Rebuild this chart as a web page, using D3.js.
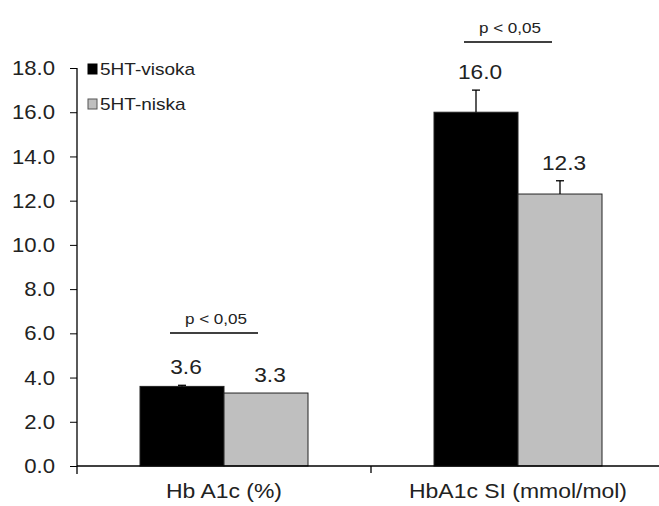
<!DOCTYPE html>
<html><head><meta charset="utf-8">
<script src="https://cdn.jsdelivr.net/npm/d3@7"></script>
<style>body{margin:0;background:#fff}svg{display:block;font-family:"Liberation Sans",Arial,sans-serif}</style>
</head><body><svg id="c" width="659" height="506"></svg>
<script>
const categories = ["Hb A1c (%)", "HbA1c SI (mmol/mol)"];
const seriesNames = ["5HT-visoka", "5HT-niska"];
const visoka = [3.6, 16.0];
const niska = [3.3, 12.3];
const visokaErr = [0.05, 1.0];
const niskaErr = [0.0, 0.6];
const yTicks = [0, 2, 4, 6, 8, 10, 12, 14, 16, 18];
const pLabels = ["p < 0,05", "p < 0,05"];
const colors = ["#000000", "#bfbfbf"];

const svg = d3.select("#c");
const x = d3.scaleBand().domain(categories).range([77, 665]).paddingInner(0).paddingOuter(0);
const y = d3.scaleLinear().domain([0, 18]).range([466, 68]);
const inner = d3.scaleBand().domain([0, 1]).range([0, x.bandwidth()]).paddingOuter(0.75).paddingInner(0);

function label(px, py, txt, size, anchor, sx) {
  return svg.append("text")
    .attr("transform", `translate(${px},${py}) scale(${sx},1)`)
    .attr("text-anchor", anchor).attr("font-size", size).attr("fill", "#222")
    .text(txt);
}

// bars
const series = [visoka, niska];
const errs = [visokaErr, niskaErr];
series.forEach((vals, s) => {
  svg.selectAll(null).data(vals).enter().append("rect")
    .attr("x", (d, i) => x(categories[i]) + inner(s))
    .attr("y", d => y(d))
    .attr("width", inner.bandwidth())
    .attr("height", d => y(0) - y(d))
    .attr("fill", colors[s])
    .attr("stroke", "#222").attr("stroke-width", 1);
  vals.forEach((d, i) => {
    const cx = x(categories[i]) + inner(s) + inner.bandwidth() / 2;
    const e = errs[s][i];
    if (e > 0) {
      svg.append("line").attr("x1", cx).attr("x2", cx).attr("y1", y(d)).attr("y2", y(d + e)).attr("stroke", "#000").attr("stroke-width", 1.3);
      svg.append("line").attr("x1", cx - 4).attr("x2", cx + 4).attr("y1", y(d + e)).attr("y2", y(d + e)).attr("stroke", "#000").attr("stroke-width", 1.3);
    }
    const top = d + Math.max(e, 0);
    label(cx + 4, y(top) - 11, d.toFixed(1), 21, "middle", 1.08);
  });
});

// axes
const yAxis = d3.axisLeft(y).tickValues(yTicks).tickFormat(d3.format(".1f")).tickSize(7).tickPadding(15);
const gy = svg.append("g").attr("transform", "translate(77,0)").call(yAxis);
gy.select(".domain").remove();
gy.selectAll("text").attr("font-size", 20.5).attr("fill", "#222")
  .attr("font-family", "Liberation Sans, Arial, sans-serif")
  .attr("x", -22 / 1.08).attr("transform", "scale(1.08,1)");
gy.selectAll("line").attr("stroke", "#000");
svg.append("line").attr("x1", 77).attr("x2", 77).attr("y1", y(18)).attr("y2", y(0) + 8).attr("stroke", "#000").attr("stroke-width", 1.3);
svg.append("line").attr("x1", 77).attr("x2", 665).attr("y1", y(0)).attr("y2", y(0)).attr("stroke", "#000").attr("stroke-width", 1.3);
[categories[1]].forEach(c => {
  svg.append("line").attr("x1", x(c)).attr("x2", x(c)).attr("y1", y(0)).attr("y2", y(0) + 7).attr("stroke", "#000").attr("stroke-width", 1.3);
});
categories.forEach(c => label(x(c) + x.bandwidth() / 2, 498, c, 20.5, "middle", 1.12));

// significance brackets
categories.forEach((c, i) => {
  const x0 = x(c) + inner(0) + 30, x1 = x(c) + inner(1) + inner.bandwidth() - 50;
  const ly = i === 0 ? 333 : 42;
  svg.append("line").attr("x1", x0).attr("x2", x1).attr("y1", ly).attr("y2", ly).attr("stroke", "#000").attr("stroke-width", 1.3);
  label((x0 + x1) / 2 + 2, ly - 9, pLabels[i], 14, "middle", 1.22);
});

// legend
seriesNames.forEach((n, i) => {
  const ly = 64 + i * 35;
  svg.append("rect").attr("x", 88).attr("y", ly).attr("width", 9).attr("height", 10)
    .attr("fill", colors[i]).attr("stroke", i ? "#555" : "#000").attr("stroke-width", 1);
  label(100, ly + 11, n, 17, "start", 1.12);
});
</script></body></html>
